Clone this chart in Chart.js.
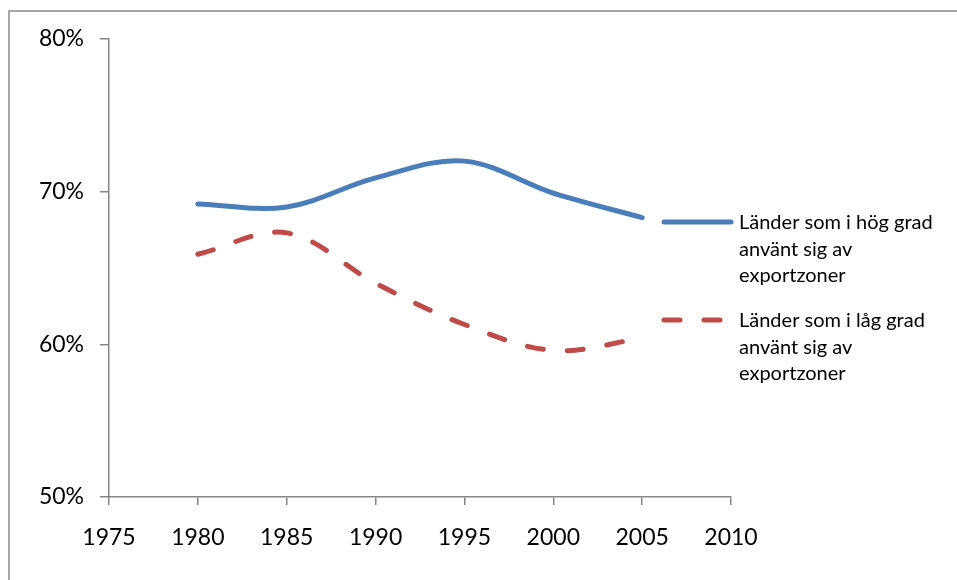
<!DOCTYPE html>
<html>
<head>
<meta charset="utf-8">
<script src="https://cdn.jsdelivr.net/npm/chart.js@4"></script>
<style>
  html, body { margin: 0; padding: 0; background: #fff; overflow: hidden; }
  #frame { position: absolute; left: 8px; top: 10px; width: 1200px; height: 800px;
           border-left: 2px solid #a6a6a6; border-top: 2px solid #a6a6a6; }
  #wrap { position: absolute; left: 0; top: 0; width: 957px; height: 580px; }
</style>
</head>
<body>
<div id="frame"></div>
<div id="wrap"><canvas id="chart" width="957" height="580"></canvas></div>
<script>
var years = [1980, 1985, 1990, 1995, 2000, 2005];
var highUse = [69.2, 69.0, 70.9, 72.0, 69.9, 68.3];
var lowUse = [65.9, 67.3, 64.0, 61.3, 59.6, 60.4];
var highLabel = ['Länder som i hög grad', 'använt sig av', 'exportzoner'];
var lowLabel = ['Länder som i låg grad', 'använt sig av', 'exportzoner'];
var xTicks = [1975, 1980, 1985, 1990, 1995, 2000, 2005, 2010];
var yTicks = [50, 60, 70, 80];

function toPoints(values) {
    return years.map(function (y, i) { return { x: y, y: values[i] }; });
}

var axisColor = '#868686';
var fontFamily = 'Lato, "Open Sans", sans-serif';

// legend with wrapped labels, drawn at the right of the plot
var sideLegend = {
    id: 'sideLegend',
    afterDraw: function (chart) {
        var ctx = chart.ctx;
        var rows = [
            { ds: chart.data.datasets[0], lines: highLabel, y: 222 },
            { ds: chart.data.datasets[1], lines: lowLabel, y: 320 }
        ];
        ctx.save();
        rows.forEach(function (row) {
            ctx.beginPath();
            ctx.strokeStyle = row.ds.borderColor;
            ctx.lineWidth = row.ds.borderWidth;
            ctx.lineCap = 'round';
            ctx.setLineDash(row.ds.borderDash || []);
            ctx.moveTo(664, row.y);
            ctx.lineTo(731, row.y);
            ctx.stroke();
            ctx.setLineDash([]);
            ctx.fillStyle = '#000';
            ctx.font = '20px ' + fontFamily;
            ctx.textBaseline = 'middle';
            ctx.textAlign = 'left';
            row.lines.forEach(function (t, i) {
                ctx.fillText(t, 739, row.y + 1 + i * 26.5);
            });
        });
        ctx.restore();
    }
};

new Chart(document.getElementById('chart'), {
    type: 'line',
    data: {
        datasets: [{
            label: highLabel.join(' '),
            data: toPoints(highUse),
            borderColor: '#4a7ebb',
            borderWidth: 5,
            borderCapStyle: 'round',
            tension: 0.35,
            pointRadius: 0,
            fill: false
        }, {
            label: lowLabel.join(' '),
            data: toPoints(lowUse),
            borderColor: '#be4b48',
            borderWidth: 5,
            borderCapStyle: 'round',
            borderDash: [16, 24],
            tension: 0.35,
            pointRadius: 0,
            fill: false
        }]
    },
    options: {
        responsive: false,
        animation: false,
        layout: { padding: { top: 39, right: 226, left: 0, bottom: 0 } },
        plugins: {
            legend: { display: false },
            tooltip: { enabled: false }
        },
        scales: {
            x: {
                type: 'linear',
                min: 1975,
                max: 2010,
                afterBuildTicks: function (scale) {
                    scale.ticks = xTicks.map(function (v) { return { value: v }; });
                },
                afterFit: function (scale) { scale.height = 83; },
                grid: { drawOnChartArea: false, drawTicks: true, tickLength: 8, color: axisColor, lineWidth: 1.5 },
                border: { color: axisColor, width: 1.5 },
                ticks: {
                    color: '#000',
                    padding: 19,
                    maxRotation: 0,
                    font: { family: fontFamily, size: 23 },
                    callback: function (v) { return String(v); }
                }
            },
            y: {
                min: 50,
                max: 80,
                afterBuildTicks: function (scale) {
                    scale.ticks = yTicks.map(function (v) { return { value: v }; });
                },
                afterFit: function (scale) { scale.width = 109; },
                grid: { drawOnChartArea: false, drawTicks: true, tickLength: 9, color: axisColor, lineWidth: 1.5 },
                border: { color: axisColor, width: 1.5 },
                ticks: {
                    color: '#000',
                    padding: 16,
                    font: { family: fontFamily, size: 23 },
                    callback: function (v) { return v + '%'; }
                }
            }
        }
    },
    plugins: [sideLegend]
});
</script>
</body>
</html>
